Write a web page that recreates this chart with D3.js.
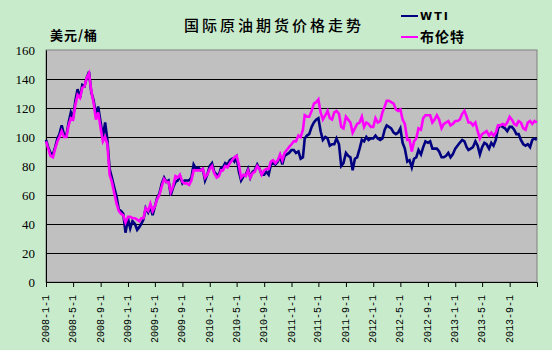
<!DOCTYPE html>
<html><head><meta charset="utf-8">
<script src="https://cdn.jsdelivr.net/npm/d3@7/dist/d3.min.js"></script>
<style>
html,body{margin:0;padding:0;background:#C8EBCC;}
svg{display:block;}
</style></head>
<body>
<script>
// ---- data (3 readings per month: day 1, 11, 21; plus 2013-12-31) ----
const startYear = 2008;
const seriesNames = ["WTI", "布伦特"];
const wti = [
  // 2008
  98,93,89, 88,93,99, 102,108,102, 101,110,117, 113,125,133, 127,136,135, 141,145,131, 125,115,121, 110,100,110, 98,78,72, 65,59,50, 49,47,34,
  // 2009
  44,37,42, 40,36,38, 40,43,51, 48,52,46, 52,58,61, 68,72,69, 70,60,65, 69,70,73, 68,70,70, 70,72,81, 78,79,77, 78,70,74,
  // 2010
  80,82,76, 74,74,79, 79,82,81, 84,85,83, 86,76,70, 73,74,78, 72,76,77, 81,78,74, 74,76,74, 81,82,81, 83,87,81, 87,88,89,
  // 2011
  91,91,89, 90,85,86, 99,101,102, 107,110,112, 113,104,98, 100,99,94, 95,95,99, 95,80,82, 89,87,86, 77,85,86, 92,98,97, 100,98,99,
  // 2012
  99,101,99, 98,99,105, 108,107,106, 103,102,103, 106,96,92, 83,84,79, 85,86,91, 88,93,97, 96,97,92, 92,92,90, 86,86,87, 89,86,88,
  // 2013
  92,94,96, 98,97,93, 91,92,93, 97,94,88, 93,96,95, 92,96,94, 98,106,108, 107,106,104, 107,107,105, 102,102,98, 95,94,95, 93,98,99,
  98
];
const brent = [
  // 2008
  97,92,87, 86,92,97, 100,104,100, 100,108,113, 112,122,129, 127,134,135, 141,144,132, 123,112,117, 106,97,100, 95,74,69, 61,54,49, 47,46,41,
  // 2009
  45,45,44, 44,43,42, 44,44,51, 49,54,49, 52,57,60, 66,71,69, 69,62,66, 73,72,74, 69,68,68, 67,70,77, 77,77,77, 78,72,74,
  // 2010
  78,80,75, 72,73,77, 77,80,79, 82,84,86, 87,81,72, 74,73,77, 72,75,76, 80,78,74, 77,78,78, 83,84,82, 84,88,84, 89,91,93,
  // 2011
  95,97,97, 101,100,105, 115,114,114, 118,123,124, 126,117,112, 115,118,113, 112,117,118, 116,107,106, 114,112,110, 103,106,109, 110,114,107, 110,109,107,
  // 2012
  107,113,110, 111,117,121, 125,125,124, 123,119,118, 119,112,109, 98,98,90, 97,99,106, 105,113,115, 115,115,110, 112,115,112, 106,109,110, 111,108,109,
  // 2013
  111,111,112, 116,118,114, 110,110,108, 110,104,99, 102,103,104, 101,103,101, 103,108,108, 109,108,110, 114,112,109, 108,111,110, 106,105,110, 111,109,111,
  110
];
const xTickLabels = ["2008-1-1","2008-5-1","2008-9-1","2009-1-1","2009-5-1","2009-9-1",
  "2010-1-1","2010-5-1","2010-9-1","2011-1-1","2011-5-1","2011-9-1",
  "2012-1-1","2012-5-1","2012-9-1","2013-1-1","2013-5-1","2013-9-1"];
const yTicks = [0,20,40,60,80,100,120,140,160];
const title = "国际原油期货价格走势";
const unitLabel = "美元/桶";
const colors = ["#000080", "#FF00FF"];

// dates for each reading
const dates = wti.map((_, i) => i < wti.length - 1
  ? new Date(startYear, Math.floor(i / 3), 1 + (i % 3) * 10)
  : new Date(2013, 11, 31));

const W = 552, H = 350;
const m = {left: 46, right: 15, top: 50, bottom: 68};
const svg = d3.select("body").append("svg").attr("width", W).attr("height", H);

const x = d3.scaleTime().domain([new Date(2008,0,1), new Date(2014,0,1)]).range([m.left, W - m.right]);
const y = d3.scaleLinear().domain([0,160]).range([H - m.bottom, m.top]);

// plot area
svg.append("rect").attr("x", x.range()[0]).attr("y", y(160))
  .attr("width", x.range()[1]-x.range()[0]).attr("height", y(0)-y(160))
  .attr("fill", "#C0C0C0").attr("stroke", "#808080").attr("stroke-width", 1);

// gridlines
svg.append("g").selectAll("line").data(yTicks.filter(v => v > 0 && v < 160)).join("line")
  .attr("x1", x.range()[0]).attr("x2", x.range()[1])
  .attr("y1", d => Math.round(y(d)) + 0.5).attr("y2", d => Math.round(y(d)) + 0.5)
  .attr("stroke", "#000").attr("stroke-width", 1);

// y axis
const yAxis = svg.append("g").attr("transform", `translate(${x.range()[0]},0)`)
  .call(d3.axisLeft(y).tickValues(yTicks).tickSize(0).tickPadding(11));
yAxis.select(".domain").attr("stroke", "#000");
yAxis.selectAll("text").attr("font-family", "Liberation Serif, serif").attr("font-size", 13).attr("fill", "#000");

// x axis
const parse = d3.timeParse("%Y-%m-%d");
const tickDates = xTickLabels.map(parse);
const xAxis = svg.append("g").attr("transform", `translate(0,${y(0)})`)
  .call(d3.axisBottom(x).tickValues(tickDates).tickSize(5).tickFormat((d, i) => xTickLabels[i]));
xAxis.select(".domain").attr("stroke", "#000");
xAxis.selectAll(".tick line").attr("stroke", "#000");
xAxis.selectAll("text")
  .attr("font-family", "Liberation Mono, monospace").attr("font-size", 10).attr("fill", "#000")
  .attr("transform", "rotate(-90)").attr("text-anchor", "end")
  .attr("x", -13).attr("y", -1).attr("dy", "0.35em");

// lines
const line = d3.line().x((d, i) => x(dates[i])).y(d => y(d));
[wti, brent].forEach((s, k) => {
  svg.append("path").datum(s).attr("d", line).attr("fill", "none")
    .attr("stroke", colors[k]).attr("stroke-width", 2.6).attr("stroke-linejoin", "miter");
});

// title & unit
svg.append("text").attr("x", 274).attr("y", 31).attr("text-anchor", "middle")
  .attr("font-family", "Noto Sans CJK SC").attr("font-size", 15).attr("font-weight", 500)
  .attr("letter-spacing", 3).attr("fill", "#000").text(title);
svg.append("text").attr("x", 50).attr("y", 40)
  .attr("font-family", "Noto Sans CJK SC").attr("font-size", 13).attr("font-weight", 700)
  .attr("letter-spacing", 1).attr("fill", "#000").text(unitLabel);

// legend
const leg = svg.append("g");
seriesNames.forEach((n, k) => {
  const ly = k === 0 ? 16 : 37;
  leg.append("line").attr("x1", 401).attr("x2", 418).attr("y1", ly).attr("y2", ly)
    .attr("stroke", colors[k]).attr("stroke-width", 2);
  leg.append("text").attr("x", 420).attr("y", ly).attr("dy", "0.36em")
    .attr("font-family", k === 0 ? "DejaVu Sans" : "Noto Sans CJK SC")
    .attr("font-size", k === 0 ? 11 : 14).attr("font-weight", 700)
    .attr("letter-spacing", k === 0 ? 2 : 1).attr("fill", "#000").text(n);
});
</script>
</body></html>
